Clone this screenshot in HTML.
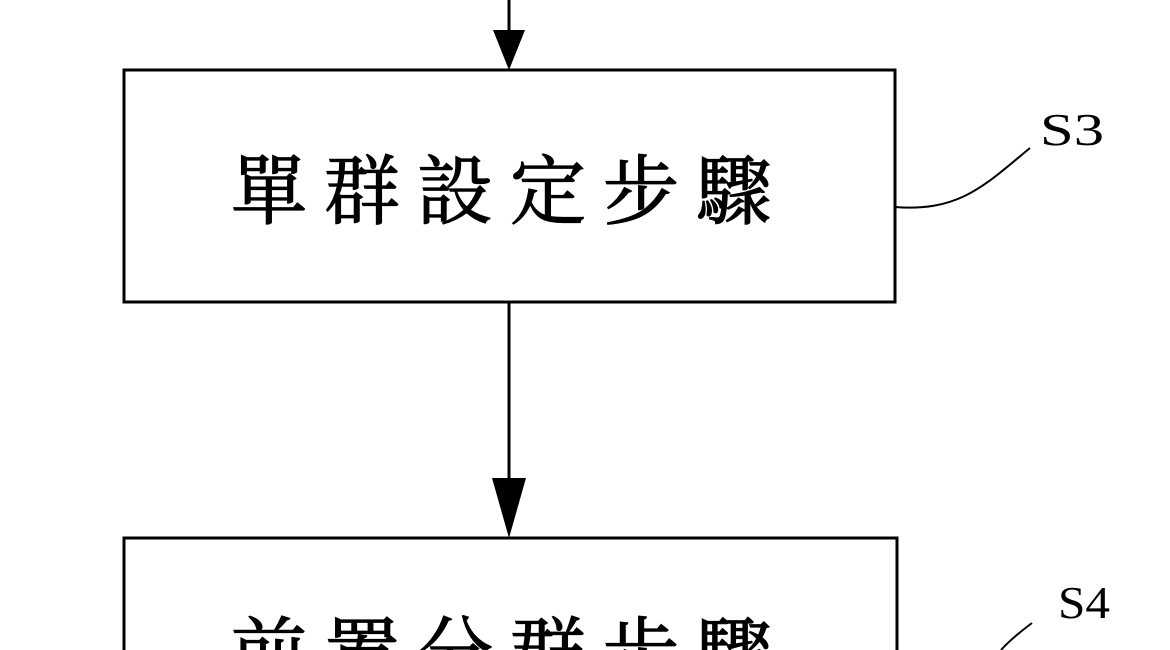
<!DOCTYPE html>
<html><head><meta charset="utf-8"><style>
html,body{margin:0;padding:0;background:#fff;overflow:hidden;}
body{width:1170px;height:650px;overflow:hidden;position:relative;}
svg{position:absolute;left:0;top:0;display:block;}
.t{font-family:"Liberation Serif","Noto Serif CJK SC","Noto Sans CJK TC",serif;fill:#000;}
.l{font-family:"Liberation Serif",serif;fill:#000;}
</style></head><body>
<svg width="1170" height="650" viewBox="0 0 1170 650">
<line x1="509" y1="0" x2="509" y2="45" stroke="#000" stroke-width="3"/>
<polygon points="493,30 525,30 509,70" fill="#000"/>
<rect x="124" y="70" width="771" height="232" fill="none" stroke="#000" stroke-width="3"/>
<text class="t" x="510" y="218" font-size="76" text-anchor="middle" letter-spacing="17" stroke="#000" stroke-width="1.2">單群設定步驟</text>
<path d="M895,207 C960,212 985,185 1030,148" fill="none" stroke="#000" stroke-width="2"/>
<text class="l" x="1040" y="145" font-size="46" textLength="64" lengthAdjust="spacingAndGlyphs">S3</text>
<line x1="509" y1="302" x2="509" y2="500" stroke="#000" stroke-width="3"/>
<polygon points="492,478 526,478 509,538" fill="#000"/>
<rect x="124" y="538" width="773" height="140" fill="none" stroke="#000" stroke-width="3"/>
<text class="t" x="510" y="680" font-size="76" text-anchor="middle" letter-spacing="17" stroke="#000" stroke-width="1.2">前置分群步驟</text>
<path d="M1032,623 C1020,632 1010,640 1001,650" fill="none" stroke="#000" stroke-width="2"/>
<text class="l" x="1058" y="618" font-size="46" textLength="52" lengthAdjust="spacingAndGlyphs">S4</text>
</svg>
</body></html>
